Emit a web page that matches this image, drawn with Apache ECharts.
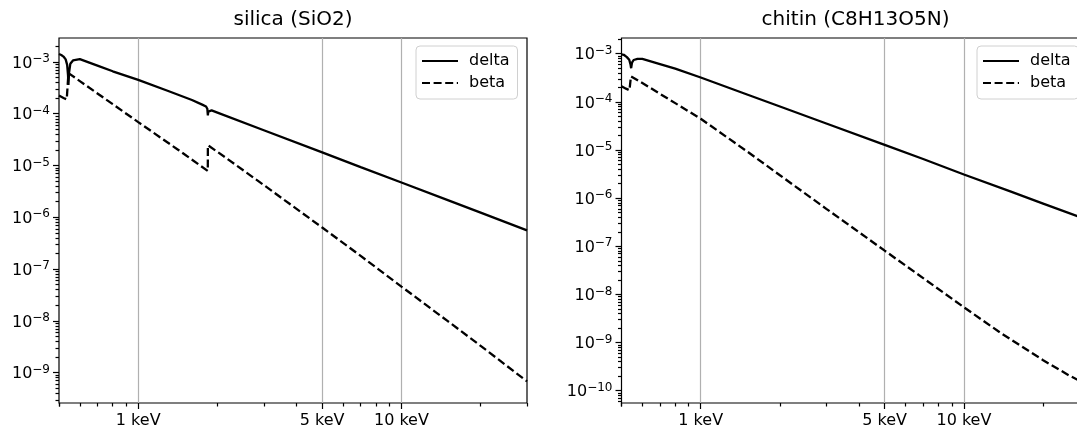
<!DOCTYPE html>
<html>
<head>
<meta charset="utf-8">
<script src="https://cdn.jsdelivr.net/npm/echarts@6/dist/echarts.min.js"></script>
<style>
  html, body { margin: 0; padding: 0; background: #fff; }
  #main { width: 1077px; height: 429px; }
</style>
</head>
<body>
<div id="main"></div>
<script>
// energies in keV
var silicaDeltaE = [0.5, 0.51, 0.52, 0.53, 0.537, 0.541, 0.543, 0.546, 0.552, 0.565, 0.6, 0.7, 0.8, 1.0, 1.3, 1.6, 1.75, 1.81, 1.83, 1.839, 1.845, 1.86, 1.9, 2.0, 3.0, 5.0, 7.0, 10, 15, 20, 30];
var silicaDelta = [1.42e-3, 1.36e-3, 1.27e-3, 1.12e-3, 8.8e-4, 5.6e-4, 3.6e-4, 6.2e-4, 9.2e-4, 1.07e-3, 1.13e-3, 8.5e-4, 6.6e-4, 4.5e-4, 2.75e-4, 1.84e-4, 1.5e-4, 1.38e-4, 1.25e-4, 9.3e-5, 1.1e-4, 1.17e-4, 1.16e-4, 1.05e-4, 4.8e-5, 1.79e-5, 9.3e-6, 4.7e-6, 2.15e-6, 1.23e-6, 5.6e-7];

var silicaBetaE = [0.5, 0.52, 0.535, 0.5429, 0.5431, 0.6, 0.8, 1.0, 1.43, 1.838, 1.8391, 2.0, 3.0, 5.0, 7.0, 10, 15, 20, 30];
var silicaBeta = [2.24e-4, 2.02e-4, 1.89e-4, 1.85e-4, 6.1e-4, 4.27e-4, 1.53e-4, 6.9e-5, 1.95e-5, 7.85e-6, 2.46e-5, 1.84e-5, 4.2e-6, 6.35e-7, 1.8e-7, 4.6e-8, 9.9e-9, 3.3e-9, 6.8e-10];

var chitinDeltaE = [0.5, 0.51, 0.524, 0.535, 0.541, 0.544, 0.548, 0.556, 0.575, 0.6, 0.7, 0.8, 1.0, 1.5, 2, 3, 5, 7, 10, 15, 20, 30];
var chitinDelta = [9.7e-4, 9.5e-4, 8.5e-4, 7.5e-4, 6.0e-4, 5.0e-4, 6.5e-4, 7.4e-4, 7.8e-4, 7.8e-4, 6.1e-4, 4.9e-4, 3.2e-4, 1.42e-4, 8.0e-5, 3.55e-5, 1.28e-5, 6.5e-6, 3.1e-6, 1.38e-6, 7.7e-7, 3.4e-7];

var chitinBetaE = [0.5, 0.52, 0.536, 0.5429, 0.5431, 0.6, 0.8, 1.0, 1.5, 2, 3, 5, 7, 10, 14, 20, 25, 30];
var chitinBeta = [2.1e-4, 1.88e-4, 1.74e-4, 1.7e-4, 3.4e-4, 2.46e-4, 9.4e-5, 4.45e-5, 9.35e-6, 2.98e-6, 6.0e-7, 8.1e-8, 2.18e-8, 5.4e-9, 1.5e-9, 4.3e-10, 2.1e-10, 1.25e-10];

var titles = ['silica (SiO2)', 'chitin (C8H13O5N)'];
var xTicks = [1, 5, 10];
var yTicks = [[1e-9, 1e-8, 1e-7, 1e-6, 1e-5, 1e-4, 1e-3], [1e-10, 1e-9, 1e-8, 1e-7, 1e-6, 1e-5, 1e-4, 1e-3]];

var FONT = 'DejaVu Sans';
var gridLeft = [59, 621.5];
var yRange = [[2.6e-10, 2.9e-3], [5.55e-11, 2.12e-3]];
var legendLeft = [416, 977];

function pairs(xs, ys) {
  return xs.map(function (x, i) { return [x, ys[i]]; });
}

// minor log ticks (2..9 per decade)
function minorTicks(lo, hi) {
  var out = [];
  for (var p = -12; p <= 2; p++) {
    for (var m = 2; m <= 9; m++) {
      var v = m * Math.pow(10, p);
      if (v >= lo && v <= hi) out.push(v);
    }
  }
  return out;
}
var xMinor = minorTicks(0.5, 30).filter(function (v) { return Math.abs(v - 5) > 1e-9; });
xMinor.unshift(0.5);

var myChart = echarts.init(document.getElementById('main'));

var tickStyle = { color: '#000', width: 1.2 };
var grid = [], xAxis = [], yAxis = [], title = [], legend = [];

for (var i = 0; i < 2; i++) {
  grid.push({
    left: gridLeft[i], top: 38, width: 468, height: 365,
    outerBoundsMode: 'none', containLabel: false,
    show: true, borderColor: '#000', borderWidth: 1.2
  });
  title.push({
    text: titles[i],
    left: gridLeft[i] + 234, top: 10, textAlign: 'center', padding: 0,
    textStyle: { fontSize: 20, fontWeight: 'normal', color: '#000', fontFamily: FONT }
  });
  // major x axis: labels + grid lines
  xAxis.push({
    type: 'log', gridIndex: i, min: 0.5, max: 30, position: 'bottom',
    axisLine: { show: false },
    axisTick: { show: true, customValues: xTicks, length: 6, lineStyle: tickStyle },
    axisLabel: {
      customValues: xTicks, margin: 10, fontSize: 16, color: '#000', fontFamily: FONT,
      formatter: function (v) { return Math.round(v) + ' keV'; }
    },
    splitLine: { show: true, lineStyle: { color: '#b0b0b0', width: 1.2 } }
  });
  // minor x ticks
  xAxis.push({
    type: 'log', gridIndex: i, min: 0.5, max: 30, position: 'bottom',
    axisLine: { show: false },
    axisTick: { show: true, customValues: xMinor, length: 3.5, lineStyle: tickStyle },
    axisLabel: { show: false },
    splitLine: { show: false }
  });
  yAxis.push({
    type: 'log', gridIndex: i, min: yRange[i][0], max: yRange[i][1], position: 'left',
    axisLine: { show: false },
    axisTick: { show: true, customValues: yTicks[i], length: 6, lineStyle: tickStyle },
    axisLabel: {
      customValues: yTicks[i], margin: 9, color: '#000', fontFamily: FONT,
      formatter: function (v) {
        var p = Math.round(Math.log10(v));
        return '{b|10}{s|\u2212' + Math.abs(p) + '}';
      },
      rich: {
        b: { fontSize: 16, fontFamily: FONT, color: '#000', lineHeight: 18, padding: [3, 0, 0, 0] },
        s: { fontSize: 12, fontFamily: FONT, color: '#000', lineHeight: 12, verticalAlign: 'top' }
      }
    },
    splitLine: { show: false }
  });
  yAxis.push({
    type: 'log', gridIndex: i, min: yRange[i][0], max: yRange[i][1], position: 'left',
    axisLine: { show: false },
    axisTick: { show: true, customValues: minorTicks(yRange[i][0], yRange[i][1]), length: 3.5, lineStyle: tickStyle },
    axisLabel: { show: false },
    splitLine: { show: false }
  });
  legend.push({
    data: ['delta', 'beta'], orient: 'vertical', left: legendLeft[i], top: 46,
    itemWidth: 36, itemHeight: 14, itemGap: 4, padding: [6, 8, 7, 5],
    borderColor: '#d0d0d0', borderWidth: 1, borderRadius: 4,
    backgroundColor: 'rgba(255,255,255,0.8)',
    selectedMode: false,
    itemStyle: { opacity: 0 },
    textStyle: { fontSize: 16, fontFamily: FONT, color: '#000', lineHeight: 18, padding: [0, 0, 0, 6] }
  });
}

function lineSeries(name, data, gi, dashed) {
  return {
    name: name, type: 'line', data: data,
    xAxisIndex: gi * 2, yAxisIndex: gi * 2,
    symbol: 'none', showSymbol: false, clip: true,
    color: '#000',
    lineStyle: { color: '#000', width: 2.3, type: dashed ? [8, 3.6] : 'solid' },
    animation: false
  };
}

var option = {
  animation: false,
  backgroundColor: '#fff',
  title: title,
  legend: legend,
  grid: grid,
  xAxis: xAxis,
  yAxis: yAxis,
  series: [
    lineSeries('delta', pairs(silicaDeltaE, silicaDelta), 0, false),
    lineSeries('beta', pairs(silicaBetaE, silicaBeta), 0, true),
    lineSeries('delta', pairs(chitinDeltaE, chitinDelta), 1, false),
    lineSeries('beta', pairs(chitinBetaE, chitinBeta), 1, true)
  ]
};

myChart.setOption(option);
</script>
</body>
</html>
